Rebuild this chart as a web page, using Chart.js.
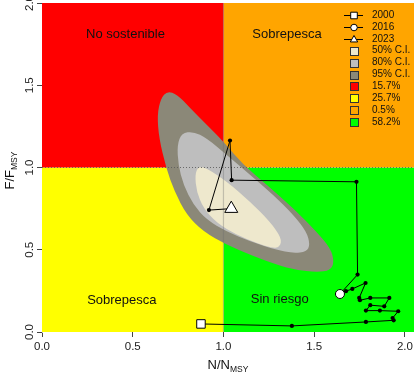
<!DOCTYPE html>
<html>
<head>
<meta charset="utf-8">
<script src="https://cdn.jsdelivr.net/npm/chart.js@4.4.1/dist/chart.umd.min.js"></script>
<style>
  html, body { margin: 0; padding: 0; background: #fff; }
  #wrap { width: 418px; height: 376px; }
</style>
</head>
<body>
<div id="wrap"><canvas id="kobe" width="418" height="376"></canvas></div>
<script>
//-----------------------------------------------------
// Kobe plot - N/Nmsy vs F/Fmsy
//-----------------------------------------------------

const FONT = '"Liberation Sans", Arial, sans-serif';

// axes
const xTicks = [0, 0.5, 1, 1.5, 2];
const yTicks = [0, 0.5, 1, 1.5, 2];
const xMax = 2.05;
const yMax = 2;

// stock trajectory 2000 -> 2023
const trajN = [0.876, 1.377, 1.785, 1.938, 1.932, 1.963, 1.862, 1.785, 1.809, 1.886, 1.914, 1.809,
               1.752, 1.748, 1.783, 1.710, 1.675, 1.642, 1.739, 1.733, 1.045, 1.036, 0.920, 1.043];
const trajF = [0.049, 0.037, 0.061, 0.071, 0.085, 0.126, 0.130, 0.130, 0.163, 0.156, 0.207, 0.207,
               0.193, 0.207, 0.298, 0.262, 0.248, 0.231, 0.349, 0.913, 0.923, 1.164, 0.741, 0.750];

// highlighted years
const markYears = ['2000', '2016', '2023'];
const markN = [0.876, 1.642, 1.043];
const markF = [0.049, 0.231, 0.750];

// confidence regions (outline points)
const ci95N = [0.690, 0.745, 0.815, 0.907, 0.999, 1.109, 1.238, 1.385, 1.513, 1.590, 1.610, 1.590,
               1.513, 1.403, 1.293, 1.146, 1.018, 0.889, 0.797, 0.730, 0.684, 0.645, 0.635, 0.655];
const ci95F = [1.465, 1.445, 1.362, 1.260, 1.158, 1.016, 0.895, 0.753, 0.610, 0.509, 0.428, 0.374,
               0.364, 0.377, 0.408, 0.469, 0.530, 0.610, 0.712, 0.854, 0.996, 1.179, 1.321, 1.420];
const ci80N = [0.770, 0.834, 0.907, 1.018, 1.146, 1.274, 1.385, 1.458, 1.477, 1.458, 1.385, 1.293,
               1.146, 1.018, 0.907, 0.834, 0.779, 0.751, 0.745];
const ci80F = [1.209, 1.219, 1.179, 1.077, 0.956, 0.834, 0.712, 0.610, 0.530, 0.489, 0.479, 0.499,
               0.550, 0.610, 0.682, 0.773, 0.895, 1.016, 1.138];
const ci50N = [0.861, 0.907, 1.018, 1.146, 1.256, 1.321, 1.311, 1.274, 1.183, 1.073, 0.963, 0.889,
               0.852, 0.843];
const ci50F = [1.006, 0.996, 0.915, 0.793, 0.671, 0.570, 0.519, 0.509, 0.540, 0.590, 0.662, 0.753,
               0.854, 0.956];
const ciLabels = ['50% C.I.', '80% C.I.', '95% C.I.'];

// quadrants: red, yellow, orange, green
const quadNames = ['No sostenible', 'Sobrepesca', 'Sobrepesca', 'Sin riesgo'];
const quadPct = [15.7, 25.7, 0.5, 58.2];
const quadN0 = [0, 0, 1, 1];
const quadN1 = [1, 1, xMax, xMax];
const quadF0 = [1, 0, 1, 0];
const quadF1 = [yMax, 1, yMax, 1];

// styles
const quadColors = ['#FF0000', '#FFFF00', '#FFA500', '#00FF00'];
const ciColors = ['#EEE8CD', '#BEBEBE', '#8B8878'];
const markShapes = ['rect', 'circle', 'triangle'];
const markRadius = [6, 4.5, 7.5];
const namePosN = [0.46, 1.35, 0.44, 1.31];
const namePosF = [1.81, 1.81, 0.195, 0.2];

const pts = (xs, ys) => xs.map((x, i) => ({ x: x, y: ys[i] }));

function polygonSet(xs, ys, color, order, smooth) {
    return { data: pts(xs, ys), polygon: true, smooth: smooth, backgroundColor: color,
             showLine: false, pointRadius: 0, order: order };
}

const datasets = [];

// markers on top
markYears.forEach((yr, i) => {
    datasets.push({
        label: yr, data: [{ x: markN[i], y: markF[i] }], order: 0,
        pointStyle: markShapes[i], pointRadius: markRadius[i],
        pointBackgroundColor: '#fff', pointBorderColor: '#000', pointBorderWidth: 1
    });
});

datasets.push({
    label: 'trajectory', data: pts(trajN, trajF), order: 1, showLine: true,
    borderColor: '#000', borderWidth: 1, pointRadius: 2.1,
    pointBackgroundColor: '#000', pointBorderWidth: 0
});

// reference lines
datasets.push({ data: [{ x: 0, y: 1 }, { x: xMax, y: 1 }], order: 2, showLine: true,
    borderColor: 'rgba(90,90,90,0.85)', borderWidth: 1, borderDash: [1, 2], pointRadius: 0 });
datasets.push({ data: [{ x: 1, y: 0 }, { x: 1, y: yMax }], order: 3, showLine: true,
    borderColor: 'rgba(110,110,110,0.35)', borderWidth: 1.2, pointRadius: 0 });

datasets.push(polygonSet(ci50N, ci50F, ciColors[0], 4, true));
datasets.push(polygonSet(ci80N, ci80F, ciColors[1], 5, true));
datasets.push(polygonSet(ci95N, ci95F, ciColors[2], 6, true));

quadPct.forEach((p, i) => {
    datasets.push(polygonSet(
        [quadN0[i], quadN1[i], quadN1[i], quadN0[i]],
        [quadF0[i], quadF0[i], quadF1[i], quadF1[i]],
        quadColors[i], 7 + i, false));
});

function drawSymbol(ctx, shape, x, y, r) {
    ctx.beginPath();
    if (shape === 'rect') {
        ctx.rect(x - r, y - r, 2 * r, 2 * r);
    } else if (shape === 'circle') {
        ctx.arc(x, y, r, 0, Math.PI * 2);
    } else {
        ctx.moveTo(x, y - r * 1.15);
        ctx.lineTo(x + r * 1.05, y + r * 0.7);
        ctx.lineTo(x - r * 1.05, y + r * 0.7);
        ctx.closePath();
    }
    ctx.fillStyle = '#fff';
    ctx.fill();
    ctx.strokeStyle = '#000';
    ctx.lineWidth = 1;
    ctx.stroke();
}

function subTitle(ctx, main, sub, cx, cy, rot) {
    ctx.save();
    ctx.translate(cx, cy);
    ctx.rotate(rot);
    ctx.font = '13px ' + FONT;
    const w1 = ctx.measureText(main).width;
    ctx.font = '8.5px ' + FONT;
    const w2 = ctx.measureText(sub).width;
    const x0 = -(w1 + w2) / 2;
    ctx.textAlign = 'left';
    ctx.textBaseline = 'alphabetic';
    ctx.fillStyle = '#111';
    ctx.font = '13px ' + FONT;
    ctx.fillText(main, x0, 4.5);
    ctx.font = '8.5px ' + FONT;
    ctx.fillText(sub, x0 + w1, 7.5);
    ctx.restore();
}

const kobePlugin = {
    id: 'kobe',
    beforeDatasetDraw(chart, args) {
        const ds = chart.data.datasets[args.index];
        if (!ds.polygon) return;
        const p = args.meta.data;
        const ctx = chart.ctx, a = chart.chartArea;
        ctx.save();
        ctx.beginPath();
        ctx.rect(a.left, a.top, a.right - a.left, a.bottom - a.top);
        ctx.clip();
        ctx.beginPath();
        if (ds.smooth) {
            const n = p.length;
            const mid = (u, v) => ({ x: (u.x + v.x) / 2, y: (u.y + v.y) / 2 });
            const m0 = mid(p[n - 1], p[0]);
            ctx.moveTo(m0.x, m0.y);
            for (let i = 0; i < n; i++) {
                const m = mid(p[i], p[(i + 1) % n]);
                ctx.quadraticCurveTo(p[i].x, p[i].y, m.x, m.y);
            }
        } else {
            ctx.moveTo(p[0].x, p[0].y);
            for (let i = 1; i < p.length; i++) ctx.lineTo(p[i].x, p[i].y);
        }
        ctx.closePath();
        ctx.fillStyle = ds.backgroundColor;
        ctx.fill();
        ctx.restore();
    },
    afterDraw(chart) {
        const ctx = chart.ctx, a = chart.chartArea;
        const xs = chart.scales.x, ys = chart.scales.y;
        ctx.save();

        // quadrant names
        ctx.font = '13px ' + FONT;
        ctx.fillStyle = '#111';
        ctx.textAlign = 'center';
        ctx.textBaseline = 'middle';
        quadNames.forEach((t, i) => {
            ctx.fillText(t, xs.getPixelForValue(namePosN[i]), ys.getPixelForValue(namePosF[i]));
        });

        // y tick labels (rotated, R style)
        ctx.font = '11.5px ' + FONT;
        ctx.fillStyle = '#222';
        yTicks.forEach(v => {
            ctx.save();
            ctx.translate(a.left - 12, ys.getPixelForValue(v));
            ctx.rotate(-Math.PI / 2);
            ctx.fillText(v.toFixed(1), 0, 0);
            ctx.restore();
        });

        // axis titles
        subTitle(ctx, 'N/N', 'MSY', (a.left + a.right) / 2, 364.5, 0);
        subTitle(ctx, 'F/F', 'MSY', 9, (a.top + a.bottom) / 2 + 3, -Math.PI / 2);

        // legend
        const lx = a.right - 60, tx = a.right - 42, step = 11.9;
        let ly = a.top + 12;
        ctx.font = '10px ' + FONT;
        ctx.textAlign = 'left';
        ctx.textBaseline = 'middle';
        markYears.forEach((yr, i) => {
            ctx.strokeStyle = '#000';
            ctx.lineWidth = 1;
            ctx.beginPath();
            ctx.moveTo(lx - 10, Math.round(ly) + 0.5);
            ctx.lineTo(lx + 9, Math.round(ly) + 0.5);
            ctx.stroke();
            drawSymbol(ctx, markShapes[i], lx, Math.round(ly) + 0.5, i === 2 ? 3.5 : 3.3);
            ctx.fillStyle = '#111';
            ctx.fillText(yr, tx, ly);
            ly += step;
        });
        const boxes = ciLabels.map((t, i) => [t, ciColors[i]])
            .concat(quadPct.map((p, i) => [p.toFixed(1) + '%', quadColors[i]]));
        boxes.forEach(([t, c]) => {
            const bx = Math.round(lx - 4) + 0.5, by = Math.round(ly - 4) + 0.5;
            ctx.fillStyle = c;
            ctx.fillRect(bx, by, 8, 8);
            ctx.strokeStyle = '#333';
            ctx.lineWidth = 1;
            ctx.strokeRect(bx, by, 8, 8);
            ctx.fillStyle = '#111';
            ctx.fillText(t, tx, ly);
            ly += step;
        });
        ctx.restore();
    }
};

new Chart(document.getElementById('kobe'), {
    type: 'scatter',
    data: { datasets: datasets },
    plugins: [kobePlugin],
    options: {
        responsive: false,
        animation: false,
        events: [],
        layout: { autoPadding: false, padding: { left: 0, right: 4, top: 3, bottom: 0 } },
        plugins: { legend: { display: false }, tooltip: { enabled: false } },
        scales: {
            x: {
                type: 'linear', min: 0, max: xMax,
                afterBuildTicks: s => { s.ticks = xTicks.map(v => ({ value: v })); },
                afterFit: s => { s.height = 44; s.paddingLeft = 0; s.paddingRight = 0; },
                ticks: {
                    callback: v => v.toFixed(1), autoSkip: false, maxRotation: 0,
                    padding: 3, color: '#222', font: { family: FONT, size: 11.5 }
                },
                grid: { drawOnChartArea: false, drawTicks: true, tickLength: 5, color: '#444' },
                border: { display: false }
            },
            y: {
                type: 'linear', min: 0, max: yMax,
                afterBuildTicks: s => { s.ticks = yTicks.map(v => ({ value: v })); },
                afterFit: s => { s.width = 42; s.paddingTop = 0; s.paddingBottom = 0; },
                ticks: { display: false },
                grid: { drawOnChartArea: false, drawTicks: true, tickLength: 5, color: '#444' },
                border: { display: true, color: '#c8c8c8' }
            }
        }
    }
});
</script>
</body>
</html>
